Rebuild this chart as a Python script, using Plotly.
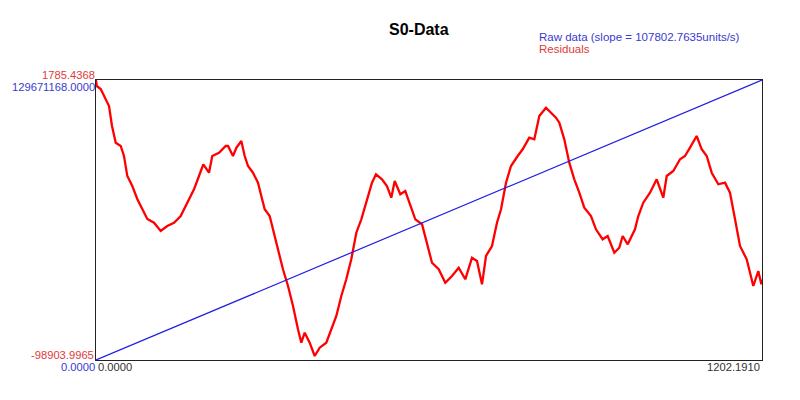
import plotly.graph_objects as go

# ---- data ----
t_resid = [0.0, 1.3, 8.5, 17.5, 23.5, 28.9, 35.6, 44.6, 50.5, 56.5, 65.5, 74.5, 83.6, 92.6,
           104.7, 116.8, 128.7, 140.8, 152.9, 164.8, 176.9, 185.9, 193.7, 204.0, 209.9, 222.0,
           234.1, 238.3, 247.3, 253.3, 262.3, 268.4, 274.4, 283.4, 292.4, 298.4, 304.5, 313.5,
           319.5, 328.5, 337.5, 346.6, 355.6, 364.6, 370.6, 376.7, 385.7, 394.8, 403.8, 415.7,
           424.7, 433.8, 442.8, 451.8, 460.8, 469.9, 478.9, 489.2, 498.2, 505.4, 516.2, 525.2,
           533.0, 539.2, 549.3, 558.3, 567.3, 576.4, 588.5, 597.5, 606.5, 618.6, 630.5, 642.6,
           654.7, 666.6, 678.7, 687.7, 696.8, 704.0, 714.8, 723.8, 731.1, 740.1, 749.1, 761.2,
           770.2, 782.1, 791.2, 800.2, 812.3, 821.3, 830.3, 836.3, 845.3, 854.3, 863.4, 872.4,
           881.4, 893.5, 902.5, 914.6, 923.6, 935.6, 944.6, 950.7, 959.8, 972.9, 978.9, 987.9,
           1000.0, 1012.1, 1024.0, 1030.2, 1042.1, 1054.2, 1063.2, 1072.2, 1084.3, 1093.3,
           1102.4, 1111.4, 1123.3, 1135.4, 1144.4, 1153.5, 1162.5, 1174.6, 1186.5, 1195.5,
           1201.0, 1202.191]
residuals = [1785, -372, -1451, -5047, -7564, -14757, -20762, -21949, -25545, -32737, -36333,
             -41008, -44604, -48200, -49531, -52515, -50717, -49531, -47121, -42338, -37520,
             -32737, -28530, -31550, -25545, -24358, -21949, -21949, -25545, -22560, -20151,
             -25545, -29141, -31550, -35146, -39929, -44712, -47121, -51904, -59096, -66288,
             -72294, -79486, -87865, -92683, -89087, -92683, -97466, -94481, -92683, -87865,
             -83082, -75890, -69884, -62692, -53127, -48308, -41116, -35146, -32126, -33924,
             -36333, -40540, -34535, -39318, -38131, -43525, -48308, -50106, -56723, -63915,
             -66288, -71107, -68698, -65713, -69884, -62117, -63304, -71682, -61505, -57909,
             -49531, -44712, -35146, -29141, -25545, -23136, -18964, -19540, -11161, -8176,
             -9974, -11772, -13570, -19540, -27954, -33924, -38742, -44137, -47121, -51904,
             -55500, -54313, -60319, -58521, -54313, -57298, -51904, -47121, -42338, -38742,
             -33924, -40540, -32737, -30939, -26732, -25545, -22560, -18353, -23136, -25545,
             -31550, -35722, -35146, -38742, -48308, -57909, -62692, -72294, -66900, -71682,
             -70000]

t_raw = [0.0, 1202.191]
raw_data = [0.0, 129671168.0]

x_range = [0.0, 1202.191]
resid_range = [-98903.9965, 1785.4368]
raw_range = [0.0, 129671168.0]

x_tick_labels = ["0.0000", "1202.1910"]
resid_tick_labels = ["-98903.9965", "1785.4368"]
raw_tick_labels = ["0.0000", "129671168.0000"]

title_text = "S0-Data"
legend_raw = "Raw data (slope = 107802.7635units/s)"
legend_resid = "Residuals"

RED = "#ff0000"
BLUE = "#2020e0"
RED_TXT = "#e03a3a"
BLUE_TXT = "#3a3ad0"
GRAY_TXT = "#333333"
FONT = "Liberation Sans, Arial, sans-serif"
NUM_SIZE = 11.2
LEG_SIZE = 11.5

fig = go.Figure()
fig.add_trace(go.Scatter(x=t_raw, y=raw_data, mode="lines", yaxis="y2",
                         line=dict(color=BLUE, width=1.2), showlegend=False))
fig.add_trace(go.Scatter(x=t_resid, y=residuals, mode="lines",
                         line=dict(color=RED, width=2.3), showlegend=False))

fig.update_layout(
    width=792, height=392,
    margin=dict(l=88, r=38, t=72, b=40),
    paper_bgcolor="white", plot_bgcolor="white",
    font=dict(family=FONT, size=12),
    showlegend=False,
    xaxis=dict(range=x_range, showgrid=False, zeroline=False, showticklabels=False,
               ticks="", showline=True, linecolor="#222222", linewidth=1, mirror=True),
    yaxis=dict(range=resid_range, showgrid=False, zeroline=False, showticklabels=False,
               ticks="", showline=True, linecolor="#222222", linewidth=1, mirror=True),
    yaxis2=dict(range=raw_range, overlaying="y", side="right", showgrid=False,
                zeroline=False, showticklabels=False, ticks="", showline=False),
)

# page pixel -> paper coords (page has 8px body margin; plot area 96..762 x 80..360)
def px(xp):
    return (xp - 96) / 666

def py(yp):
    return (360 - yp) / 280

ann = []
ann.append(dict(text="<b>" + title_text + "</b>", xref="paper", yref="paper",
                x=px(419), y=py(30), xanchor="center", yanchor="middle",
                showarrow=False, font=dict(size=16, color="#000000", family=FONT)))
ann.append(dict(text=legend_raw, xref="paper", yref="paper",
                x=px(537), y=py(36.5), xanchor="left", yanchor="middle",
                showarrow=False, font=dict(size=LEG_SIZE, color=BLUE_TXT, family=FONT)))
ann.append(dict(text=legend_resid, xref="paper", yref="paper",
                x=px(537), y=py(49.5), xanchor="left", yanchor="middle",
                showarrow=False, font=dict(size=LEG_SIZE, color=RED_TXT, family=FONT)))
ann.append(dict(text=resid_tick_labels[1], xref="paper", yref="paper",
                x=px(97), y=py(75), xanchor="right", yanchor="middle",
                showarrow=False, font=dict(size=NUM_SIZE, color=RED_TXT, family=FONT)))
ann.append(dict(text=raw_tick_labels[1], xref="paper", yref="paper",
                x=px(97), y=py(87), xanchor="right", yanchor="middle",
                showarrow=False, font=dict(size=NUM_SIZE, color=BLUE_TXT, family=FONT)))
ann.append(dict(text=resid_tick_labels[0], xref="paper", yref="paper",
                x=px(96), y=py(355), xanchor="right", yanchor="middle",
                showarrow=False, font=dict(size=NUM_SIZE, color=RED_TXT, family=FONT)))
ann.append(dict(text=raw_tick_labels[0], xref="paper", yref="paper",
                x=px(97), y=py(367), xanchor="right", yanchor="middle",
                showarrow=False, font=dict(size=NUM_SIZE, color=BLUE_TXT, family=FONT)))
ann.append(dict(text=x_tick_labels[0], xref="paper", yref="paper",
                x=px(96), y=py(367), xanchor="left", yanchor="middle",
                showarrow=False, font=dict(size=NUM_SIZE, color=GRAY_TXT, family=FONT)))
ann.append(dict(text=x_tick_labels[1], xref="paper", yref="paper",
                x=px(762), y=py(367), xanchor="right", yanchor="middle",
                showarrow=False, font=dict(size=NUM_SIZE, color=GRAY_TXT, family=FONT)))
fig.update_layout(annotations=ann)

fig.write_html("out.html")
